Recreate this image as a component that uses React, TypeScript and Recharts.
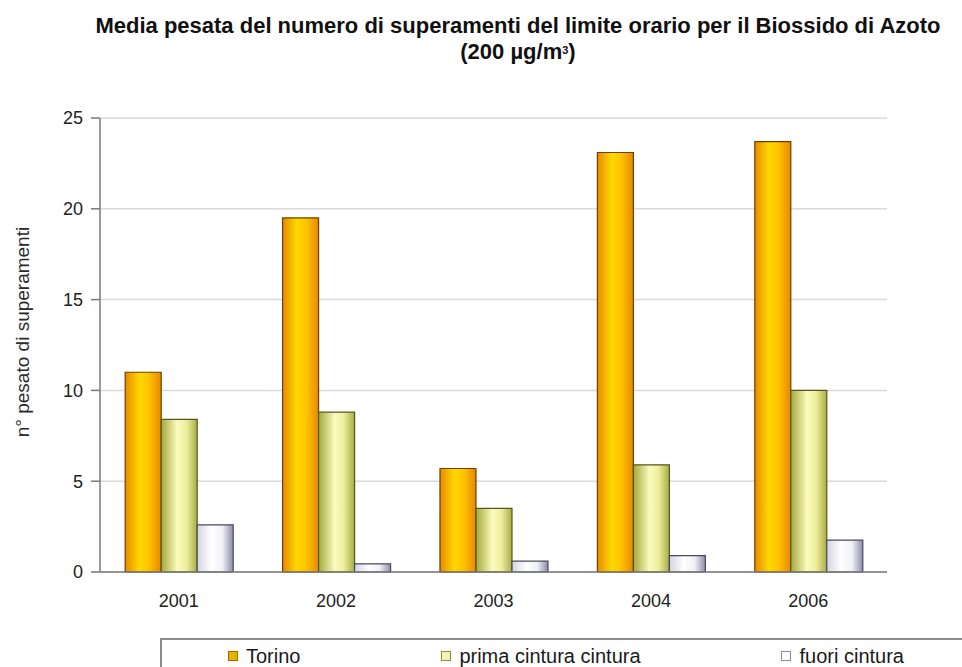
import React from 'react';
import { BarChart, Bar, XAxis, YAxis, CartesianGrid, Legend, Label } from 'recharts';

// Categories and series values
const years = ['2001', '2002', '2003', '2004', '2006'];
const torino = [11.0, 19.5, 5.7, 23.1, 23.7];
const primaCintura = [8.4, 8.8, 3.5, 5.9, 10.0];
const fuoriCintura = [2.6, 0.45, 0.6, 0.9, 1.75];
const yTicks = [0, 5, 10, 15, 20, 25];
const edgeTicks = [0, 1, 2, 3, 4, 5];

const FONT = '"Liberation Sans", Arial, sans-serif';

const series = [
  { key: 'torino', name: 'Torino', grad: 'gTorino', stroke: '#6b4200', swatch: '#e8b400', swatchStroke: '#a06a00' },
  { key: 'prima', name: 'prima cintura cintura', grad: 'gPrima', stroke: '#55581c', swatch: '#f2f2b8', swatchStroke: '#8a9030' },
  { key: 'fuori', name: 'fuori cintura', grad: 'gFuori', stroke: '#4a4a5c', swatch: '#ffffff', swatchStroke: '#8a8a9a' },
];

const data = years.map((year, i) => ({
  year,
  torino: torino[i],
  prima: primaCintura[i],
  fuori: fuoriCintura[i],
}));

const LegendBox = () => (
  <div
    style={{
      boxSizing: 'border-box',
      width: 810,
      height: 34,
      borderTop: '2px solid #8c8c8c',
      borderLeft: '2px solid #8c8c8c',
      display: 'flex',
      alignItems: 'center',
      justifyContent: 'space-between',
      paddingLeft: 66,
      paddingRight: 66,
      fontFamily: FONT,
      fontSize: 20,
      color: '#1a1a1a',
    }}
  >
    {series.map((s) => (
      <div key={s.key} style={{ display: 'flex', alignItems: 'center' }}>
        <span
          style={{
            display: 'inline-block',
            width: 8,
            height: 8,
            background: s.swatch,
            border: `1.5px solid ${s.swatchStroke}`,
            marginRight: 8,
          }}
        />
        <span>{s.name}</span>
      </div>
    ))}
  </div>
);

const YTitle = (props: any) => {
  const vb = props.viewBox || { x: 0, y: 0, width: 0, height: 0 };
  const cx = vb.x + 22;
  const cy = vb.y + vb.height / 2 - 13;
  return (
    <text
      x={cx}
      y={cy}
      transform={`rotate(-90, ${cx}, ${cy})`}
      textAnchor="middle"
      dominantBaseline="central"
      fontFamily={FONT}
      fontSize={19}
      fill="#2a2a2a"
    >
      n° pesato di superamenti
    </text>
  );
};

export default function App() {
  return (
    <div style={{ position: 'absolute', left: 0, top: 0, width: 962, height: 667, background: '#fff' }}>
      <div
        style={{
          position: 'absolute',
          left: 95,
          top: 13,
          width: 846,
          textAlign: 'center',
          fontFamily: FONT,
          fontWeight: 'bold',
          fontSize: 22,
          lineHeight: '26px',
          color: '#111',
        }}
      >
        <div style={{ whiteSpace: 'nowrap' }}>Media pesata del numero di superamenti del limite orario per il Biossido di Azoto</div>
        <div>
          (200 µg/m<sup style={{ fontSize: 11, verticalAlign: 'top', position: 'relative', top: -2 }}>3</sup>)
        </div>
      </div>
      <BarChart
        width={962}
        height={667}
        data={data}
        margin={{ top: 118, right: 75, left: 0, bottom: 21 }}
        barCategoryGap="16%"
        barGap={0}
        style={{ position: 'absolute', left: 0, top: 0 }}
      >
        <defs>
          <linearGradient id="gTorino" x1="0" y1="0" x2="1" y2="0">
            <stop offset="0%" stopColor="#e88a00" />
            <stop offset="40%" stopColor="#ffd800" />
            <stop offset="65%" stopColor="#ffc400" />
            <stop offset="100%" stopColor="#e88800" />
          </linearGradient>
          <linearGradient id="gPrima" x1="0" y1="0" x2="1" y2="0">
            <stop offset="0%" stopColor="#a4a83c" />
            <stop offset="45%" stopColor="#fbfbbe" />
            <stop offset="70%" stopColor="#eeee9c" />
            <stop offset="100%" stopColor="#a8ac44" />
          </linearGradient>
          <linearGradient id="gFuori" x1="0" y1="0" x2="1" y2="0">
            <stop offset="0%" stopColor="#d4d4e2" />
            <stop offset="40%" stopColor="#ffffff" />
            <stop offset="70%" stopColor="#f0f0f6" />
            <stop offset="100%" stopColor="#8c8cac" />
          </linearGradient>
        </defs>
        <CartesianGrid vertical={false} stroke="#d9d9d9" strokeWidth={1.5} yAxisId="v" xAxisId="cat" />
        <XAxis
          xAxisId="edges"
          type="number"
          domain={[0, 5]}
          ticks={edgeTicks}
          height={0}
          axisLine={false}
          tickLine={{ stroke: '#7a7a7a', strokeWidth: 1.5 }}
          tickSize={6}
          tickFormatter={() => ''}
          allowDataOverflow
        />
        <XAxis
          xAxisId="cat"
          dataKey="year"
          height={40}
          axisLine={{ stroke: '#7a7a7a', strokeWidth: 1.5 }}
          tickLine={false}
          tick={{ fontFamily: FONT, fontSize: 18, fill: '#222' }}
          tickMargin={16}
        />
        <YAxis
          yAxisId="v"
          width={100}
          domain={[0, 25]}
          ticks={yTicks}
          axisLine={{ stroke: '#7a7a7a', strokeWidth: 1.5 }}
          tickLine={{ stroke: '#7a7a7a', strokeWidth: 1.5 }}
          tickSize={9}
          tick={{ fontFamily: FONT, fontSize: 18, fill: '#222' }}
          tickMargin={8}
        >
          <Label content={<YTitle />} />
        </YAxis>
        {series.map((s) => (
          <Bar
            key={s.key}
            dataKey={s.key}
            name={s.name}
            xAxisId="cat"
            yAxisId="v"
            fill={`url(#${s.grad})`}
            stroke={s.stroke}
            strokeWidth={1.2}
            isAnimationActive={false}
          />
        ))}
        <Legend
          content={<LegendBox />}
          wrapperStyle={{ position: 'absolute', left: 160, top: 638, width: 810, height: 34 }}
        />
      </BarChart>
    </div>
  );
}
